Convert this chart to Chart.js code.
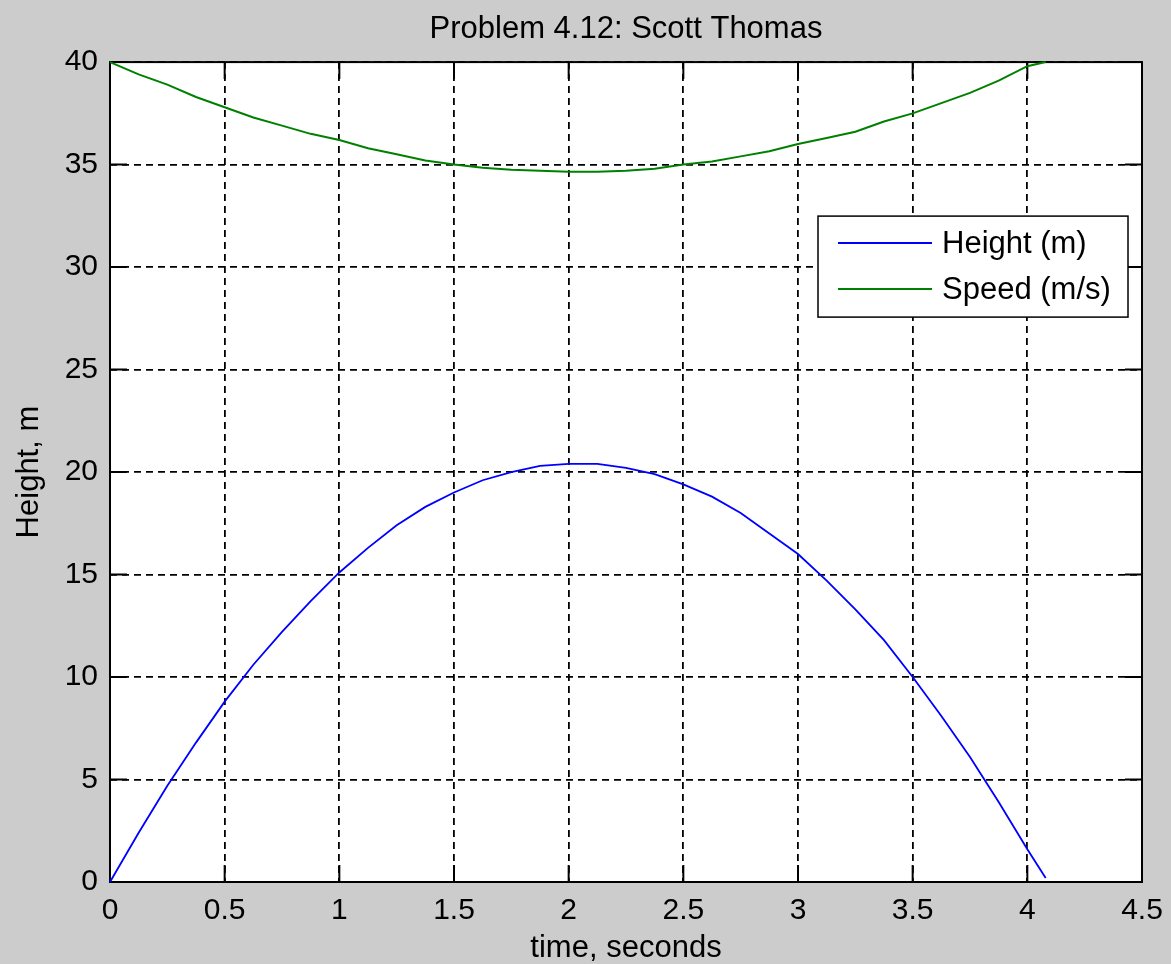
<!DOCTYPE html>
<html>
<head>
<meta charset="utf-8">
<script src="https://cdn.jsdelivr.net/npm/chart.js@4.4.1/dist/chart.umd.min.js"></script>
<style>
  html, body { margin: 0; padding: 0; background: #cccccc; }
  canvas { display: block; }
</style>
</head>
<body>
<canvas id="plot" width="1171" height="964"></canvas>
<script>
// ---------------- data ----------------
const times = [0, 0.125, 0.25, 0.375, 0.5, 0.625, 0.75, 0.875, 1.0, 1.125, 1.25, 1.375, 1.5, 1.625, 1.75, 1.875,
               2.0, 2.125, 2.25, 2.375, 2.5, 2.625, 2.75, 2.875, 3.0, 3.125, 3.25, 3.375, 3.5, 3.625, 3.75, 3.875, 4.0, 4.08];
const heights = [0, 2.4, 4.7, 6.8, 8.8, 10.6, 12.2, 13.7, 15.1, 16.3, 17.4, 18.3, 19.0, 19.6, 20.0, 20.3,
                 20.4, 20.4, 20.2, 19.9, 19.4, 18.8, 18.0, 17.0, 16.0, 14.7, 13.3, 11.8, 10.0, 8.1, 6.1, 3.9, 1.6, 0.2];
const speeds = [40.0, 39.4, 38.9, 38.3, 37.8, 37.3, 36.9, 36.5, 36.2, 35.8, 35.5, 35.2, 35.0, 34.85, 34.75, 34.7,
                34.65, 34.65, 34.7, 34.8, 35.0, 35.15, 35.4, 35.65, 36.0, 36.3, 36.6, 37.1, 37.5, 38.0, 38.5, 39.1, 39.8, 40.0];
const seriesNames = ['Height (m)', 'Speed (m/s)'];
const seriesColors = ['#0000ff', '#008000'];

const FONT = '"Liberation Sans", Arial, sans-serif';
const tickLen = 17;

// gray figure + white axes background
const backgroundPlugin = {
    id: 'matlabBackground',
    beforeDraw: (chart) => {
        const ctx = chart.ctx;
        const a = chart.chartArea;
        ctx.save();
        ctx.fillStyle = '#cccccc';
        ctx.fillRect(0, 0, chart.width, chart.height);
        ctx.fillStyle = '#ffffff';
        ctx.fillRect(a.left, a.top, a.right - a.left, a.bottom - a.top);
        ctx.restore();
    }
};

// box around the axes plus the inward tick marks on all four sides
const framePlugin = {
    id: 'matlabFrame',
    beforeDatasetsDraw: (chart) => {
        const ctx = chart.ctx;
        const a = chart.chartArea;
        const xs = chart.scales.x, ys = chart.scales.y;
        ctx.save();
        ctx.strokeStyle = '#000';
        ctx.lineWidth = 2;
        ctx.beginPath();
        xs.ticks.forEach(t => {
            const px = xs.getPixelForValue(t.value);
            ctx.moveTo(px, a.bottom); ctx.lineTo(px, a.bottom - tickLen);
            ctx.moveTo(px, a.top); ctx.lineTo(px, a.top + tickLen);
        });
        ys.ticks.forEach(t => {
            const py = ys.getPixelForValue(t.value);
            ctx.moveTo(a.left, py); ctx.lineTo(a.left + tickLen, py);
            ctx.moveTo(a.right, py); ctx.lineTo(a.right - tickLen, py);
        });
        ctx.stroke();
        ctx.strokeRect(a.left, a.top, a.right - a.left, a.bottom - a.top);
        ctx.restore();
    }
};

// MATLAB style legend box in the upper right of the axes
const legendPlugin = {
    id: 'matlabLegend',
    afterDatasetsDraw: (chart) => {
        const ctx = chart.ctx;
        const a = chart.chartArea;
        const w = 310, h = 101;
        const x0 = a.right - 14 - w, y0 = a.top + 154;
        ctx.save();
        ctx.fillStyle = '#fff';
        ctx.fillRect(x0, y0, w, h);
        ctx.strokeStyle = '#000';
        ctx.lineWidth = 1.5;
        ctx.strokeRect(x0, y0, w, h);
        ctx.font = '31px ' + FONT;
        ctx.textBaseline = 'middle';
        chart.data.datasets.forEach((ds, i) => {
            const yy = y0 + 27 + i * 46;
            ctx.strokeStyle = ds.borderColor;
            ctx.lineWidth = 2;
            ctx.beginPath();
            ctx.moveTo(x0 + 20, yy);
            ctx.lineTo(x0 + 114, yy);
            ctx.stroke();
            ctx.fillStyle = '#000';
            ctx.fillText(ds.label, x0 + 124, yy + 1);
        });
        ctx.restore();
    }
};

const ctx = document.getElementById('plot').getContext('2d');
const chart = new Chart(ctx, {
    type: 'line',
    data: {
        datasets: [
            {
                label: seriesNames[0],
                data: times.map((t, i) => ({ x: t, y: heights[i] })),
                borderColor: seriesColors[0],
                borderWidth: 1.8,
                pointRadius: 0,
                tension: 0,
                fill: false
            },
            {
                label: seriesNames[1],
                data: times.map((t, i) => ({ x: t, y: speeds[i] })),
                borderColor: seriesColors[1],
                borderWidth: 2,
                pointRadius: 0,
                tension: 0,
                fill: false
            }
        ]
    },
    options: {
        responsive: false,
        animation: false,
        clip: false,
        layout: { padding: { left: 0, right: 29, top: 0, bottom: 0 } },
        plugins: {
            legend: { display: false },
            tooltip: { enabled: false },
            title: {
                display: true,
                fullSize: false, // centre over the axes, not the whole figure
                text: 'Problem 4.12: Scott Thomas',
                color: '#000',
                font: { family: FONT, size: 31, weight: 'normal', lineHeight: 1.1 },
                padding: { top: 12, bottom: 16 }
            }
        },
        scales: {
            x: {
                type: 'linear',
                min: 0,
                max: 4.5,
                afterFit: (scale) => {
                    scale.height = 82;
                    // the end labels may hang over the right margin, as in MATLAB
                    scale.paddingLeft = 0;
                    scale.paddingRight = 0;
                },
                ticks: {
                    stepSize: 0.5,
                    color: '#000',
                    font: { family: FONT, size: 30 },
                    padding: 11,
                    maxRotation: 0,
                    callback: (v) => String(v)
                },
                grid: {
                    color: '#000',
                    lineWidth: 1.8,
                    drawTicks: false
                },
                border: { display: false, dash: [7, 5] },
                title: {
                    display: true,
                    text: 'time, seconds',
                    color: '#000',
                    font: { family: FONT, size: 31, lineHeight: 1.0 },
                    padding: 0
                }
            },
            y: {
                type: 'linear',
                min: 0,
                max: 40,
                afterFit: (scale) => { scale.width = 110; },
                ticks: {
                    stepSize: 5,
                    color: '#000',
                    font: { family: FONT, size: 30 },
                    padding: 12,
                    callback: (v) => String(v)
                },
                grid: {
                    color: '#000',
                    lineWidth: 1.8,
                    drawTicks: false
                },
                border: { display: false, dash: [7, 5] },
                title: {
                    display: true,
                    text: 'Height, m',
                    color: '#000',
                    font: { family: FONT, size: 31, lineHeight: 1.1 },
                    padding: { top: 12, bottom: 0 }
                }
            }
        }
    },
    plugins: [backgroundPlugin, framePlugin, legendPlugin]
});
</script>
</body>
</html>
